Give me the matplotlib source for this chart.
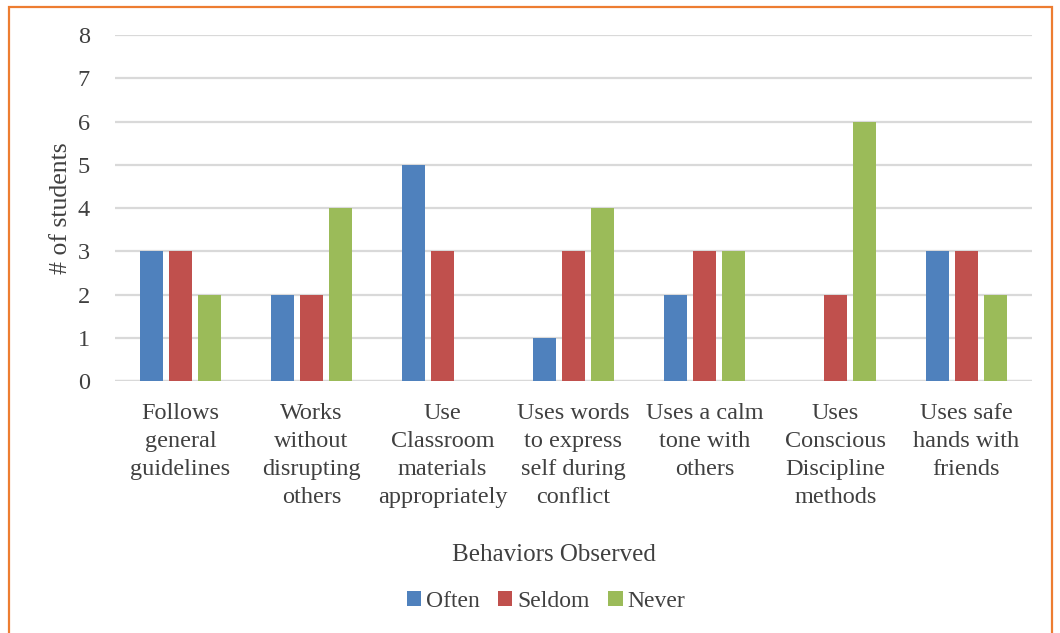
import numpy as np
import matplotlib.pyplot as plt
from matplotlib.patches import Rectangle

# data
categories = ["Follows\ngeneral\nguidelines",
              "Works\nwithout\ndisrupting\nothers",
              "Use\nClassroom\nmaterials\nappropriately",
              "Uses words\nto express\nself during\nconflict",
              "Uses a calm\ntone with\nothers",
              "Uses\nConscious\nDiscipline\nmethods",
              "Uses safe\nhands with\nfriends"]
often = [3, 2, 5, 1, 2, 0, 3]
seldom = [3, 2, 3, 3, 3, 2, 3]
never = [2, 4, 0, 4, 3, 6, 2]

series = [("Often", often, "#4F81BD"),
          ("Seldom", seldom, "#C0504D"),
          ("Never", never, "#9BBB59")]

plt.rcParams['font.family'] = ['Liberation Serif', 'DejaVu Serif']

fig = plt.figure(figsize=(10.6, 6.33), dpi=100)
ax = fig.add_axes([0.1085, 0.398, 0.865, 0.5467])

x = np.arange(len(categories))
width = 0.175
step = 0.221
for i, (name, vals, col) in enumerate(series):
    ax.bar(x + (i - 1) * step, vals, width, color=col, label=name, zorder=3)

ax.set_xlim(-0.5, len(categories) - 0.5)
ax.set_ylim(0, 8)
ax.set_yticks(range(0, 9))
ax.yaxis.grid(True, color="#D9D9D9", linewidth=1.6, zorder=0)
ax.set_axisbelow(True)
for s in ax.spines.values():
    s.set_visible(False)
ax.axhline(0, color="#D9D9D9", linewidth=1.6, zorder=1)

ax.set_xticks(x)
ax.set_xticklabels(categories, fontsize=17.5, color="#404040", linespacing=1.43, va="top")
ax.tick_params(axis="both", length=0, labelsize=17.5, labelcolor="#404040")
ax.tick_params(axis="x", pad=16)
ax.tick_params(axis="y", pad=18)

ax.set_ylabel("# of students", fontsize=18.5, color="#404040", labelpad=4)
fig.text(0.523, 0.124, "Behaviors Observed", ha="center", va="center",
         fontsize=18, color="#404040")

ax.legend(loc="center", bbox_to_anchor=(0.47, -0.637), ncol=3, frameon=False,
          fontsize=17, handlelength=0.6, handleheight=0.6, handletextpad=0.2,
          columnspacing=0.8, labelcolor="#404040")

fig.patches.append(Rectangle((9 / 1060, -0.02), 1043 / 1060, 1.02 - 7 / 633,
                             transform=fig.transFigure, fill=False,
                             edgecolor="#ED7D31", linewidth=1.6))

fig.savefig("out.png", dpi=100)
